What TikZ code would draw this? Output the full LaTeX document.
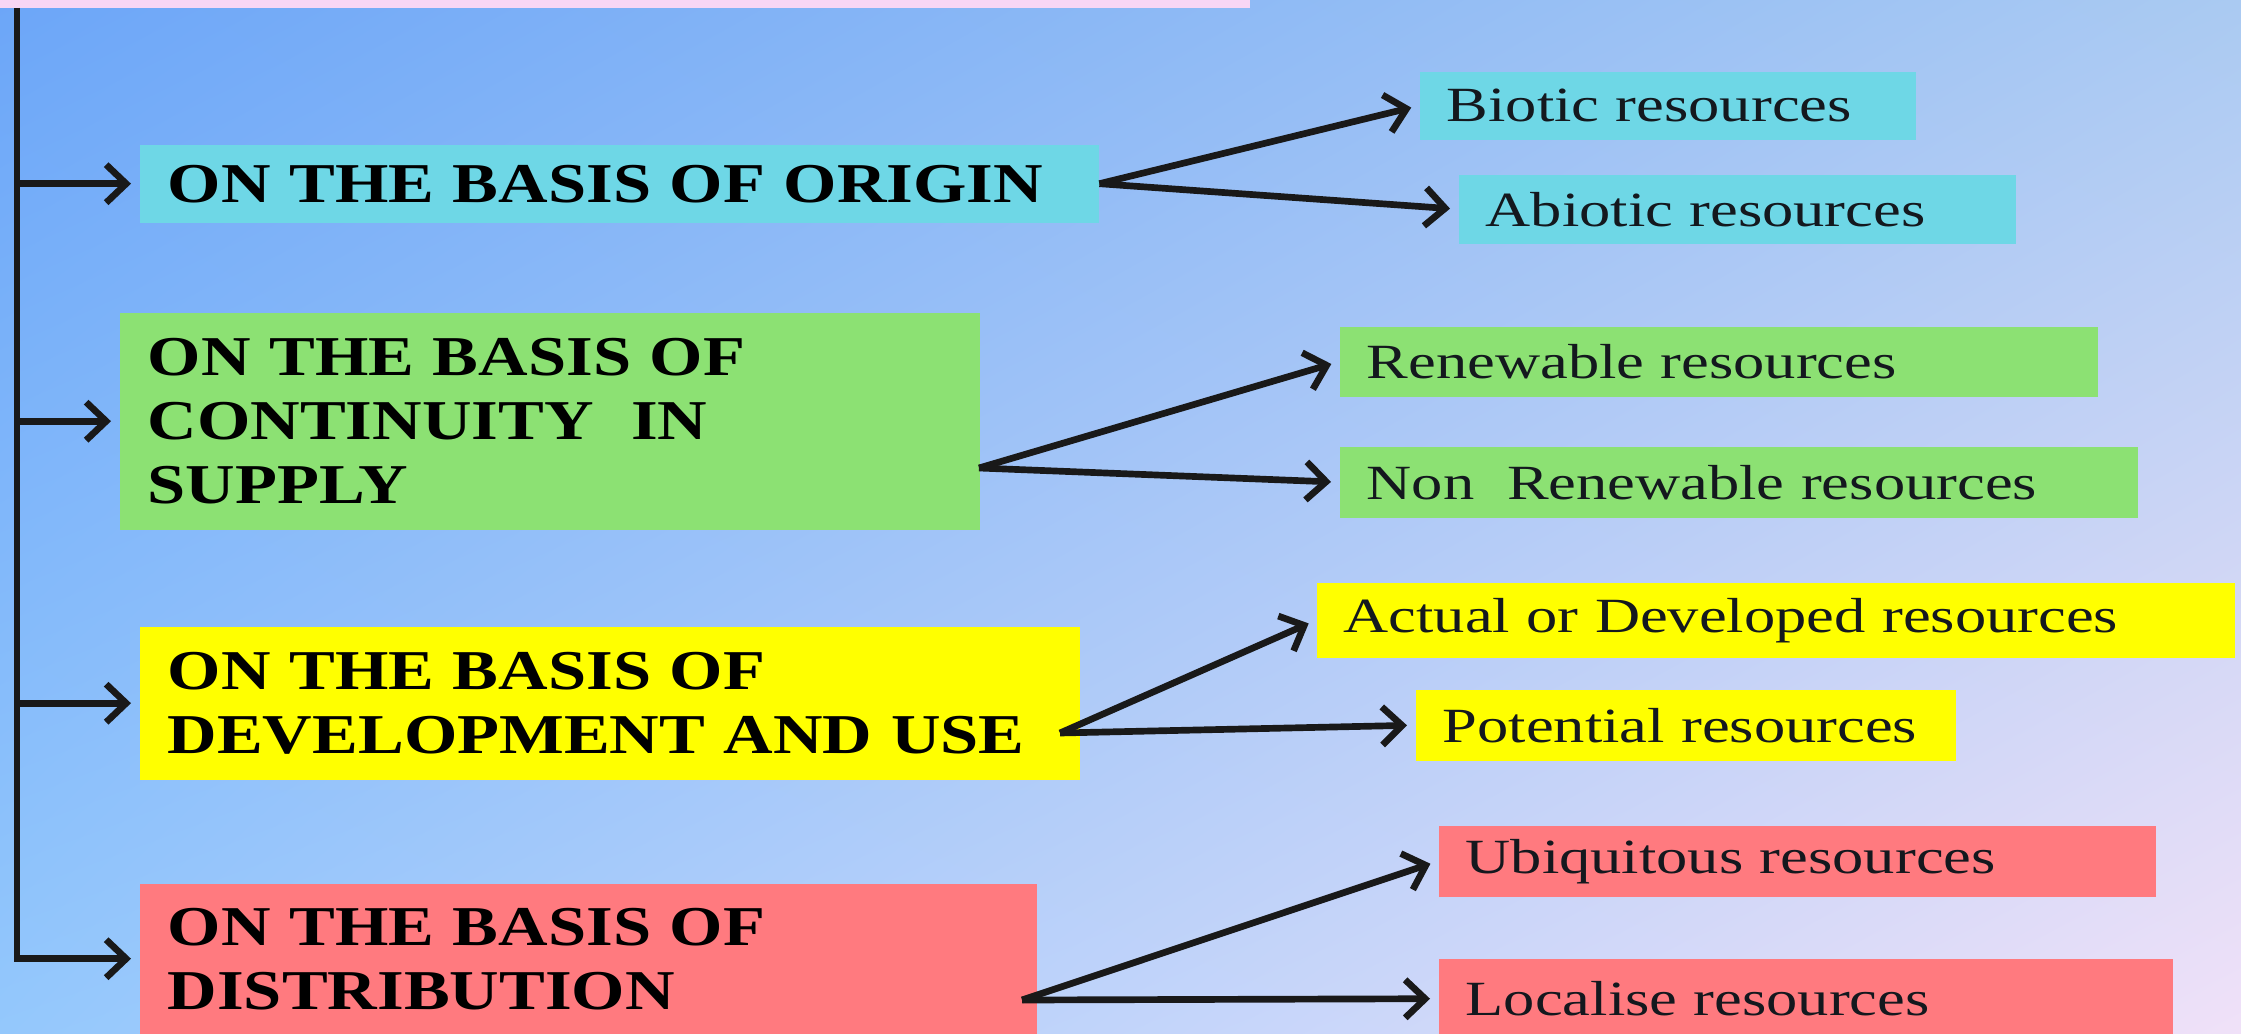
\documentclass[tikz,border=0pt]{standalone}
\usepackage{fontspec}
\newfontfamily\basisfont[FakeStretch=1.22]{Liberation Serif}
\newfontfamily\tipofont[FakeStretch=1.27]{Liberation Serif}
\usetikzlibrary{arrows.meta,calc,shadings}
\definecolor{bgupleft}{RGB}{108,166,248}
\definecolor{bgupright}{RGB}{170,202,242}
\definecolor{bglowleft}{RGB}{148,200,252}
\definecolor{bglowright}{RGB}{240,225,248}
\definecolor{pinkbar}{RGB}{248,214,245}
\definecolor{aquablue}{RGB}{110,215,230}
\definecolor{grasgreen}{RGB}{140,225,115}
\definecolor{brightyellow}{RGB}{255,255,0}
\definecolor{salmonred}{RGB}{255,122,127}
\definecolor{inkdark}{RGB}{20,24,30}
\tikzset{
  basis/.style={
    anchor=north west,
    align=left,
    inner xsep=.28cm,
    inner ysep=0pt,
    text=black,
    font=\basisfont\bfseries\fontsize{16pt}{18.2pt}\selectfont
  },
  tipo/.style={
    anchor=north west,
    align=left,
    inner xsep=.27cm,
    inner ysep=0pt,
    text=inkdark,
    font=\tipofont\fontsize{14pt}{16pt}\selectfont
  },
  arrow/.style={
    -{Straight Barb[length=2mm,width=3.8mm]},
    line width=1.9pt,
    shorten >=.8mm,
    black!90
  }
}

\begin{document}
\begin{tikzpicture}
\useasboundingbox (0,0) rectangle (22.41,-10.34);
\shade[upper left=bgupleft, upper right=bgupright, lower left=bglowleft, lower right=bglowright] (0,0) rectangle (22.41,-10.34);
\fill[pinkbar] (0,0) rectangle (12.5,-.08);

% the four bases
\node[basis, fill=aquablue, text width=9.03cm, minimum height=.78cm] (origin) at (1.39,-1.44) {ON THE BASIS OF ORIGIN};
\node[basis, fill=grasgreen, text width=8.04cm, minimum height=2.17cm] (cont) at (1.19,-3.12) {ON THE BASIS OF\\CONTINUITY\ \ IN\\SUPPLY};
\node[basis, fill=brightyellow, text width=8.84cm, minimum height=1.53cm] (dev) at (1.39,-6.26) {ON THE BASIS OF\\DEVELOPMENT AND USE};
\node[basis, fill=salmonred, text width=8.41cm, minimum height=1.50cm] (dist) at (1.39,-8.83) {ON THE BASIS OF\\DISTRIBUTION};

% the kinds of resources
\node[tipo, fill=aquablue, text width=4.42cm, minimum height=.68cm] (biotic) at (14.19,-.71) {Biotic resources};
\node[tipo, fill=aquablue, text width=5.03cm, minimum height=.69cm] (abiotic) at (14.58,-1.74) {Abiotic resources};
\node[tipo, fill=grasgreen, text width=7.04cm, minimum height=.70cm] (renew) at (13.39,-3.26) {Renewable resources};
\node[tipo, fill=grasgreen, text width=7.44cm, minimum height=.71cm] (nonrenew) at (13.39,-4.46) {Non\ \ Renewable resources};
\node[tipo, fill=brightyellow, text width=8.64cm, minimum height=.75cm] (actual) at (13.16,-5.82) {Actual or Developed resources};
\node[tipo, fill=brightyellow, text width=4.86cm, minimum height=.71cm] (potential) at (14.15,-6.89) {Potential resources};
\node[tipo, fill=salmonred, text width=6.63cm, minimum height=.71cm] (ubiq) at (14.38,-8.25) {Ubiquitous resources};
\node[tipo, fill=salmonred, text width=6.80cm, minimum height=.80cm] (local) at (14.38,-9.58) {Localise resources};

% trunk and branches
\coordinate (top) at (.17,-.08);
\draw[arrow] (top) |- (dist.west);
\draw[arrow] (top |- origin.west) -- (origin.west);
\draw[arrow] (top |- cont.west) -- (cont.west);
\draw[arrow] (top |- dev.west) -- (dev.west);

% forks
\coordinate (f2) at (9.79,-4.68);
\coordinate (f3) at (10.60,-7.33);
\coordinate (f4) at (10.22,-10.00);
\draw[arrow] (origin.east) -- (biotic.west);
\draw[arrow] (origin.east) -- (abiotic.west);
\draw[arrow] (f2) -- (renew.west);
\draw[arrow] (f2) -- (nonrenew.west);
\draw[arrow] (f3) -- (actual.west);
\draw[arrow] (f3) -- (potential.west);
\draw[arrow] (f4) -- (ubiq.west);
\draw[arrow] (f4) -- (local.west);
\end{tikzpicture}
\end{document}
